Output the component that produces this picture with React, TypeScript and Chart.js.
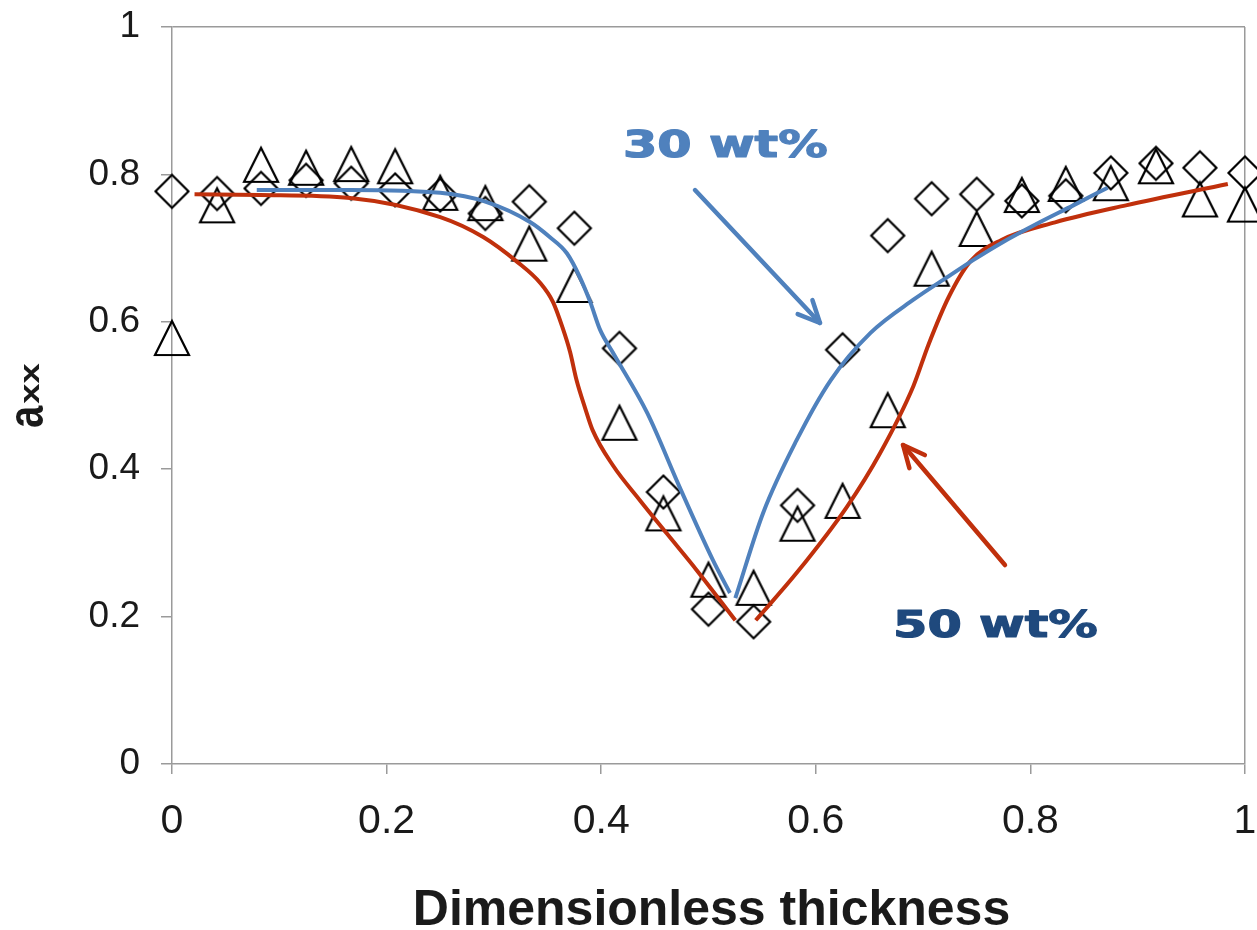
import React, { useEffect, useRef } from "react";
import { Chart, registerables } from "chart.js";

Chart.register(...registerables);

// Dimensionless thickness of the measured points across the plaque
const thickness = [
  0, 0.042, 0.083, 0.125, 0.167, 0.208, 0.25, 0.292, 0.333, 0.375, 0.417, 0.458, 0.5,
  0.542, 0.583, 0.625, 0.667, 0.708, 0.75, 0.792, 0.833, 0.875, 0.917, 0.958, 1,
];

// Measured a_xx, 30 wt% (diamonds)
const axxMeasured30 = [
  0.777, 0.774, 0.781, 0.792, 0.788, 0.779, 0.772, 0.747, 0.763, 0.727, 0.564, 0.369, 0.21,
  0.193, 0.351, 0.562, 0.717, 0.767, 0.773, 0.764, 0.771, 0.802, 0.815, 0.809, 0.802,
];

// Measured a_xx, 50 wt% (triangles)
const axxMeasured50 = [
  0.578, 0.758, 0.813, 0.809, 0.814, 0.811, 0.775, 0.761, 0.706, 0.65, 0.463, 0.34, 0.25,
  0.239, 0.326, 0.357, 0.48, 0.672, 0.726, 0.772, 0.787, 0.788, 0.811, 0.766, 0.759,
];

// Predicted a_xx, 30 wt%: skin-to-core branch and core-to-skin branch
const fit30LeftX = [0.079, 0.166, 0.25, 0.292, 0.334, 0.352, 0.368, 0.38, 0.39, 0.399, 0.411, 0.443, 0.473, 0.504, 0.52];
const fit30LeftY = [0.779, 0.779, 0.775, 0.763, 0.735, 0.715, 0.693, 0.661, 0.626, 0.589, 0.558, 0.476, 0.376, 0.277, 0.232];
const fit30RightX = [0.525, 0.551, 0.582, 0.614, 0.651, 0.691, 0.724, 0.747, 0.773, 0.806, 0.84, 0.872];
const fit30RightY = [0.225, 0.341, 0.439, 0.521, 0.585, 0.63, 0.662, 0.684, 0.707, 0.733, 0.758, 0.782];

// Predicted a_xx, 50 wt%
const fit50LeftX = [0.021, 0.082, 0.166, 0.25, 0.29, 0.322, 0.343, 0.355, 0.364, 0.371, 0.377, 0.385, 0.392, 0.411, 0.436, 0.461, 0.489, 0.525];
const fit50LeftY = [0.773, 0.772, 0.768, 0.742, 0.715, 0.681, 0.653, 0.627, 0.592, 0.559, 0.521, 0.483, 0.453, 0.405, 0.358, 0.313, 0.263, 0.195];
const fit50RightX = [0.544, 0.582, 0.629, 0.66, 0.691, 0.705, 0.724, 0.744, 0.773, 0.823, 0.889, 0.984];
const fit50RightY = [0.195, 0.259, 0.349, 0.422, 0.513, 0.569, 0.634, 0.682, 0.711, 0.735, 0.758, 0.787];

// Axis ticks
const xTicks = [0, 0.2, 0.4, 0.6, 0.8, 1];
const xTickLabels = ["0", "0.2", "0.4", "0.6", "0.8", "1"];
const yTicks = [0, 0.2, 0.4, 0.6, 0.8, 1];
const yTickLabels = ["0", "0.2", "0.4", "0.6", "0.8", "1"];

const BLUE = "#4F81BD";
const RED = "#C0300C";
const NAVY = "#1F497D";
const AXIS_GREY = "#9a9a9a";
const TEXT = "#1a1a1a";

// Callouts, anchored in data units
const callouts = [
  { text: "30 wt%", x: 0.4203, y: 0.8236, color: BLUE, from: [0.4874, 0.7788], to: [0.6039, 0.5984] },
  { text: "50 wt%", x: 0.672, y: 0.1723, color: NAVY, arrowColor: RED, from: [0.7763, 0.27], to: [0.6813, 0.4328] },
];

const pts = (xs: number[], ys: number[]) => xs.map((x, i) => ({ x, y: ys[i] }));

function diamondMarker(): HTMLCanvasElement {
  const c = document.createElement("canvas");
  c.width = 38;
  c.height = 38;
  const g = c.getContext("2d")!;
  const m = 19;
  const h = 16.5;
  g.strokeStyle = "#000";
  g.lineWidth = 2.2;
  g.lineJoin = "miter";
  g.beginPath();
  g.moveTo(m, m - h);
  g.lineTo(m + h, m);
  g.lineTo(m, m + h);
  g.lineTo(m - h, m);
  g.closePath();
  g.stroke();
  return c;
}

function triangleMarker(): HTMLCanvasElement {
  const c = document.createElement("canvas");
  c.width = 40;
  c.height = 40;
  const g = c.getContext("2d")!;
  const m = 20;
  const w = 34;
  const h = 34;
  g.strokeStyle = "#000";
  g.lineWidth = 2.2;
  g.lineJoin = "miter";
  g.beginPath();
  g.moveTo(m, m - h / 2);
  g.lineTo(m + w / 2, m + h / 2);
  g.lineTo(m - w / 2, m + h / 2);
  g.closePath();
  g.stroke();
  return c;
}

function drawArrow(ctx: CanvasRenderingContext2D, x0: number, y0: number, x1: number, y1: number, color: string) {
  const ang = Math.atan2(y1 - y0, x1 - x0);
  const len = 24;
  const spread = (25 * Math.PI) / 180;
  ctx.save();
  ctx.strokeStyle = color;
  ctx.lineWidth = 4.5;
  ctx.lineCap = "round";
  ctx.lineJoin = "round";
  ctx.beginPath();
  ctx.moveTo(x0, y0);
  ctx.lineTo(x1, y1);
  ctx.stroke();
  ctx.beginPath();
  ctx.moveTo(x1 - len * Math.cos(ang - spread), y1 - len * Math.sin(ang - spread));
  ctx.lineTo(x1, y1);
  ctx.lineTo(x1 - len * Math.cos(ang + spread), y1 - len * Math.sin(ang + spread));
  ctx.stroke();
  ctx.restore();
}

const decorations = {
  id: "decorations",
  afterDraw(chart: any) {
    const { ctx, chartArea, scales } = chart;
    const xs = scales.x;
    const ys = scales.y;

    // Callout texts and arrows
    for (const c of callouts) {
      drawArrow(
        ctx,
        xs.getPixelForValue(c.from[0]),
        ys.getPixelForValue(c.from[1]),
        xs.getPixelForValue(c.to[0]),
        ys.getPixelForValue(c.to[1]),
        c.arrowColor || c.color
      );
      ctx.save();
      ctx.translate(xs.getPixelForValue(c.x), ys.getPixelForValue(c.y));
      ctx.scale(1.3, 1);
      ctx.font = 'bold 38px "DejaVu Sans"';
      ctx.fillStyle = c.color;
      ctx.strokeStyle = c.color;
      ctx.lineWidth = 1.2;
      ctx.lineJoin = "round";
      ctx.textAlign = "left";
      ctx.textBaseline = "alphabetic";
      ctx.fillText(c.text, 0, 0);
      ctx.strokeText(c.text, 0, 0);
      ctx.restore();
    }

    // x axis title
    ctx.save();
    ctx.font = 'bold 50px "Liberation Sans", Arial, sans-serif';
    ctx.fillStyle = TEXT;
    ctx.textAlign = "center";
    ctx.textBaseline = "alphabetic";
    ctx.fillText("Dimensionless thickness", (chartArea.left + chartArea.right) / 2 + 3, 925);
    ctx.restore();

    // y axis title: a with subscript xx
    ctx.save();
    ctx.translate(43, 428);
    ctx.rotate(-Math.PI / 2);
    ctx.fillStyle = TEXT;
    ctx.textBaseline = "alphabetic";
    ctx.textAlign = "left";
    ctx.save();
    ctx.scale(0.8, 1);
    ctx.font = 'bold 50px "Liberation Sans", Arial, sans-serif';
    ctx.fillText("a", 0, 0);
    const aw = ctx.measureText("a").width * 0.8;
    ctx.restore();
    ctx.save();
    ctx.translate(aw + 2, -4);
    ctx.scale(1.3, 1);
    ctx.font = 'bold 28px "Liberation Sans", Arial, sans-serif';
    ctx.fillText("xx", 0, 0);
    ctx.restore();
    ctx.restore();
  },
};

export default function App() {
  const ref = useRef<HTMLCanvasElement | null>(null);

  useEffect(() => {
    if (!ref.current) return;
    const diamond = diamondMarker();
    const triangle = triangleMarker();

    const curve = (data: any[], color: string) => ({
      type: "line" as const,
      data,
      borderColor: color,
      borderWidth: 4,
      pointRadius: 0,
      fill: false,
      clip: false,
      cubicInterpolationMode: "monotone" as const,
    });

    const chart = new Chart(ref.current, {
      type: "scatter",
      data: {
        datasets: [
          curve(pts(fit30LeftX, fit30LeftY), BLUE),
          curve(pts(fit30RightX, fit30RightY), BLUE),
          curve(pts(fit50LeftX, fit50LeftY), RED),
          curve(pts(fit50RightX, fit50RightY), RED),
          {
            data: pts(thickness, axxMeasured30),
            pointStyle: diamond as any,
            showLine: false,
            clip: false,
          },
          {
            data: pts(thickness, axxMeasured50),
            pointStyle: triangle as any,
            showLine: false,
            clip: false,
          },
        ] as any,
      },
      options: {
        responsive: false,
        animation: false,
        devicePixelRatio: 1,
        layout: { padding: { top: 27, right: 12, left: 0, bottom: 0 } },
        plugins: { legend: { display: false }, tooltip: { enabled: false } },
        scales: {
          x: {
            type: "linear",
            min: 0,
            max: 1,
            afterBuildTicks: (s: any) => {
              s.ticks = xTicks.map((v) => ({ value: v }));
            },
            afterFit: (s: any) => {
              s.height = 166;
              s.paddingLeft = 0;
              s.paddingRight = 0;
              s.paddingTop = 0;
              s.paddingBottom = 0;
            },
            ticks: {
              callback: (_v: any, i: number) => xTickLabels[i],
              font: { family: '"Liberation Sans", Arial, sans-serif', size: 41 },
              color: TEXT,
              padding: 23,
              maxRotation: 0,
              autoSkip: false,
            },
            grid: {
              color: (c: any) => (c.tick && c.tick.value === 1 ? AXIS_GREY : "transparent"),
              tickColor: AXIS_GREY,
              tickLength: 10,
              lineWidth: 1.5,
            },
            border: { color: AXIS_GREY, width: 1.5 },
          },
          y: {
            type: "linear",
            min: 0,
            max: 1,
            afterBuildTicks: (s: any) => {
              s.ticks = yTicks.map((v) => ({ value: v }));
            },
            afterFit: (s: any) => {
              s.width = 172;
              s.paddingTop = 0;
              s.paddingBottom = 0;
              s.paddingLeft = 0;
              s.paddingRight = 0;
            },
            ticks: {
              callback: (_v: any, i: number) => yTickLabels[i],
              font: { family: '"Liberation Sans", Arial, sans-serif', size: 37 },
              color: TEXT,
              padding: 21,
              autoSkip: false,
            },
            grid: {
              color: (c: any) => (c.tick && c.tick.value === 1 ? AXIS_GREY : "transparent"),
              tickColor: AXIS_GREY,
              tickLength: 11,
              lineWidth: 1.5,
            },
            border: { color: AXIS_GREY, width: 1.5 },
          },
        },
      },
      plugins: [decorations],
    } as any);

    return () => chart.destroy();
  }, []);

  return (
    <div style={{ position: "absolute", left: 0, top: 0, width: 1257, height: 930, background: "#fff" }}>
      <canvas ref={ref} width={1257} height={930} style={{ display: "block" }} />
    </div>
  );
}
